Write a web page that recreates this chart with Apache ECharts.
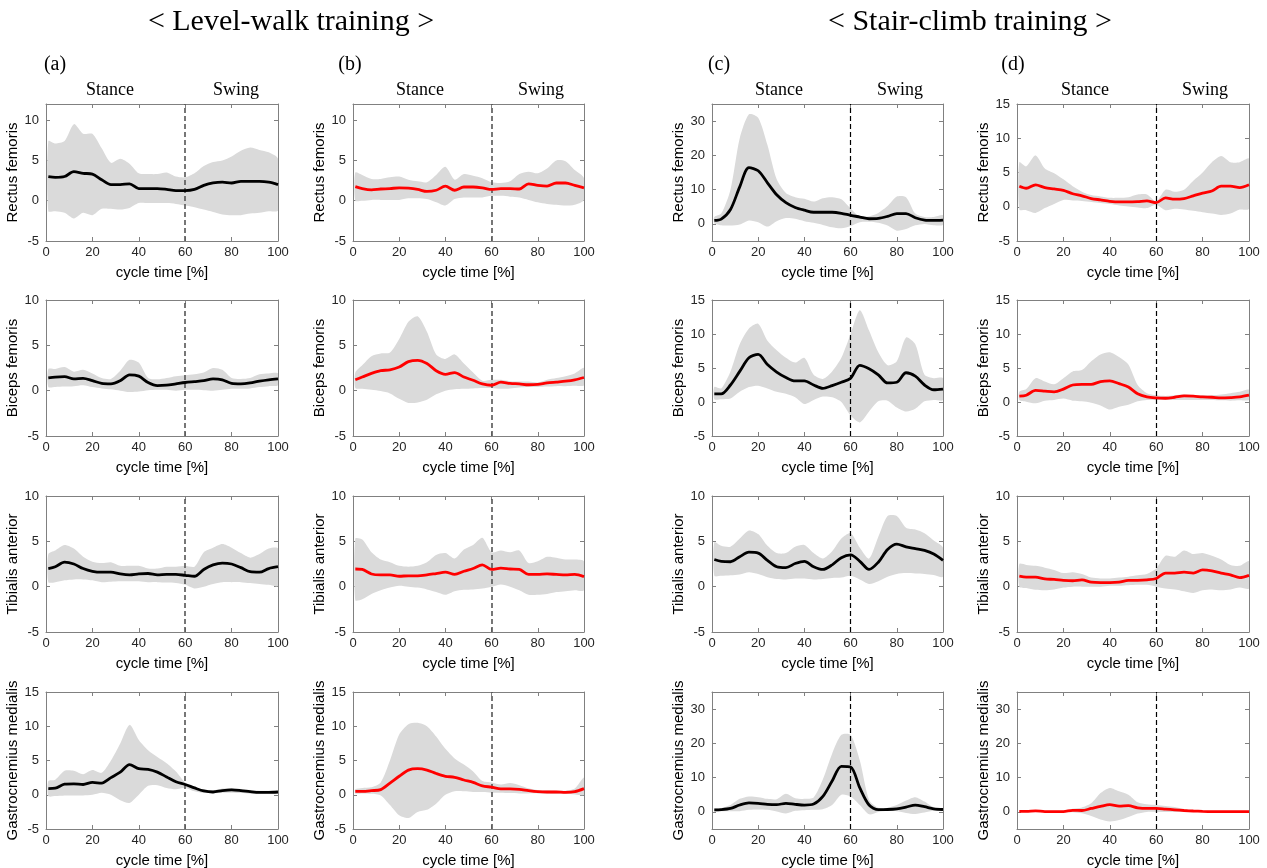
<!DOCTYPE html>
<html lang="en">
<head>
    <meta charset="UTF-8">
    <title>EMG during level-walk and stair-climb training</title>
    <script src="https://cdn.jsdelivr.net/npm/echarts@6/dist/echarts.min.js"></script>
    <style>
        html, body { margin: 0; padding: 0; background: #fff; }
        #chart { width: 1267px; height: 868px; }
    </style>
</head>
<body>
    <div id="chart"></div>
    <script>
        // cycle time samples [%]
        var X = [1, 4, 8, 12, 16, 20, 24, 28, 32, 36, 40, 44, 48, 52, 56, 60, 64, 68, 72, 76, 80, 84, 88, 92, 96, 100];

        var xTicks = [0, 20, 40, 60, 80, 100];
        var ticks10 = [-5, 0, 5, 10];
        var ticks15 = [-5, 0, 5, 10, 15];
        var ticks35 = [0, 10, 20, 30];

        var muscles = ['Rectus femoris', 'Biceps femoris', 'Tibialis anterior', 'Gastrocnemius medialis'];

        // (a) level walk, black
        var aRfMean = [3.0, 2.9, 3.0, 3.6, 3.4, 3.3, 2.6, 2.0, 2.0, 2.1, 1.5, 1.5, 1.5, 1.4, 1.25, 1.25, 1.4, 1.9, 2.2, 2.3, 2.2, 2.4, 2.4, 2.4, 2.3, 2.0];
        var aRfHi = [7.4, 7.1, 7.4, 9.5, 8.3, 8.3, 6.5, 4.7, 5.2, 4.6, 3.4, 3.3, 3.3, 3.5, 3.0, 2.9, 3.4, 4.3, 4.8, 5.0, 5.5, 6.2, 6.6, 6.3, 6.0, 5.2];
        var aRfLo = [-1.3, -1.3, -1.5, -2.2, -1.5, -1.8, -1.0, -1.0, -1.1, -0.9, -0.3, -0.3, -0.3, -0.3, -0.4, -0.6, -0.8, -1.1, -1.4, -1.7, -1.8, -1.8, -1.6, -1.5, -1.3, -1.2];

        var aBfMean = [1.4, 1.5, 1.55, 1.3, 1.35, 1.1, 0.8, 0.75, 1.1, 1.75, 1.6, 0.9, 0.55, 0.6, 0.75, 0.9, 1.0, 1.1, 1.3, 1.2, 0.8, 0.75, 0.85, 1.05, 1.2, 1.3];
        var aBfHi = [2.4, 2.4, 2.6, 2.1, 2.3, 1.9, 1.4, 1.3, 2.2, 3.4, 3.1, 1.4, 1.25, 1.4, 1.6, 1.7, 1.8, 2.0, 2.5, 2.3, 1.4, 1.3, 1.4, 1.8, 1.9, 1.9];
        var aBfLo = [0.4, 0.4, 0.45, 0.5, 0.6, 0.4, 0.25, 0.15, 0.0, -0.15, -0.1, 0.05, 0.1, 0.1, 0.0, 0.1, 0.1, 0.05, 0.0, 0.1, 0.2, 0.2, 0.25, 0.4, 0.5, 0.6];

        var aTaMean = [2.0, 2.2, 2.7, 2.5, 2.0, 1.7, 1.6, 1.6, 1.4, 1.3, 1.4, 1.45, 1.3, 1.35, 1.35, 1.25, 1.15, 1.9, 2.4, 2.6, 2.5, 2.1, 1.65, 1.6, 2.0, 2.2];
        var aTaHi = [3.6, 4.0, 4.6, 4.2, 3.3, 2.75, 2.6, 2.7, 2.3, 2.3, 2.3, 2.0, 2.0, 2.2, 2.2, 2.3, 2.2, 3.8, 4.3, 4.7, 4.3, 3.7, 3.2, 3.6, 4.2, 4.2];
        var aTaLo = [0.5, 0.5, 0.7, 0.8, 0.8, 0.7, 0.5, 0.55, 0.6, 0.6, 0.6, 0.5, 0.5, 0.45, 0.4, 0.2, -0.2, 0.0, 0.3, 0.5, 0.5, 0.5, 0.4, 0.3, 0.2, 0.1];

        var aGmMean = [0.9, 0.95, 1.55, 1.6, 1.5, 1.8, 1.7, 2.5, 3.3, 4.4, 3.8, 3.7, 3.3, 2.6, 1.9, 1.5, 1.0, 0.55, 0.4, 0.6, 0.7, 0.6, 0.45, 0.35, 0.35, 0.4];
        var aGmHi = [2.0, 2.2, 3.5, 3.5, 3.0, 3.6, 3.2, 5.0, 7.5, 10.2, 8.0, 6.5, 5.5, 4.6, 3.4, 1.8, 1.1, 0.75, 0.65, 0.9, 1.0, 0.85, 0.7, 0.6, 0.6, 0.6];
        var aGmLo = [-0.2, -0.2, -0.1, -0.1, -0.1, 0.0, 0.3, 0.0, -0.8, -1.2, 0.0, 1.3, 1.4, 1.0, 0.8, 1.0, 0.5, 0.25, 0.2, 0.3, 0.3, 0.25, 0.15, 0.1, 0.15, 0.2];

        // (b) level walk, red
        var bRfMean = [1.75, 1.5, 1.35, 1.45, 1.5, 1.6, 1.55, 1.4, 1.15, 1.3, 1.8, 1.3, 1.7, 1.7, 1.6, 1.4, 1.5, 1.5, 1.45, 2.1, 1.9, 1.8, 2.2, 2.2, 1.9, 1.6];
        var bRfHi = [3.5, 3.2, 2.7, 2.7, 2.9, 3.0, 2.6, 2.4, 2.3, 3.2, 4.2, 2.6, 3.3, 3.1, 2.8, 2.3, 2.2, 2.4, 3.3, 3.6, 3.4, 4.0, 5.0, 4.9, 3.8, 2.8];
        var bRfLo = [0.0, 0.0, 0.1, 0.1, 0.1, 0.1, 0.3, 0.3, 0.2, -0.2, -0.6, 0.2, 0.4, 0.4, 0.4, 0.6, 0.6, 0.5, 0.4, 0.1, -0.2, -0.4, -0.5, -0.6, -0.5, 0.1];

        var bBfMean = [1.2, 1.5, 1.9, 2.2, 2.3, 2.6, 3.2, 3.35, 3.0, 2.2, 1.8, 2.0, 1.5, 1.15, 0.75, 0.6, 0.95, 0.8, 0.75, 0.65, 0.7, 0.85, 0.95, 1.05, 1.2, 1.45];
        var bBfHi = [2.0, 2.8, 3.8, 4.1, 4.2, 5.7, 7.6, 8.2, 6.5, 4.0, 3.5, 4.0, 3.0, 2.0, 1.1, 1.2, 1.2, 1.05, 1.0, 1.0, 0.9, 1.2, 1.4, 1.6, 1.9, 2.5];
        var bBfLo = [0.3, 0.2, 0.1, -0.05, -0.3, -0.9, -1.35, -1.3, -1.0, -0.4, 0.0, 0.15, 0.2, 0.25, 0.3, 0.3, 0.2, 0.25, 0.35, 0.4, 0.4, 0.45, 0.5, 0.5, 0.55, 0.6];

        var bTaMean = [1.95, 1.9, 1.4, 1.3, 1.3, 1.15, 1.2, 1.2, 1.3, 1.45, 1.6, 1.35, 1.7, 2.0, 2.4, 1.9, 2.05, 1.95, 1.9, 1.35, 1.35, 1.4, 1.35, 1.3, 1.35, 1.1];
        var bTaHi = [5.3, 5.2, 3.8, 3.0, 2.7, 2.3, 2.2, 2.3, 2.7, 3.5, 3.7, 3.1, 4.1, 4.6, 5.4, 3.8, 4.0, 3.8, 4.0, 2.6, 2.8, 3.3, 3.2, 3.0, 3.0, 2.8];
        var bTaLo = [-1.5, -1.4, -0.8, -0.4, -0.1, 0.1, 0.0, -0.1, -0.3, -0.6, -0.9, -0.5, -0.35, -0.3, -0.2, 0.0, 0.25, 0.0, -0.4, -0.9, -0.9, -0.8, -0.6, -0.5, -0.4, -0.4];

        var bGmMean = [0.5, 0.5, 0.6, 0.75, 1.7, 2.7, 3.6, 3.8, 3.6, 3.1, 2.7, 2.55, 2.15, 1.8, 1.3, 1.1, 0.85, 0.85, 0.8, 0.6, 0.45, 0.4, 0.4, 0.35, 0.45, 0.9];
        var bGmHi = [0.8, 1.0, 1.1, 1.8, 5.0, 8.8, 10.3, 10.5, 10.0, 8.5, 6.7, 5.3, 4.4, 3.4, 2.0, 1.8, 1.5, 1.7, 1.4, 0.95, 0.7, 0.65, 0.6, 0.6, 0.9, 2.5];
        var bGmLo = [0.2, 0.2, 0.15, -0.1, -1.5, -3.0, -3.4, -2.5, -2.2, -1.3, 0.0, 0.5, 0.5, 0.4, 0.4, 0.3, 0.3, 0.25, 0.2, 0.2, 0.2, 0.15, 0.1, 0.1, 0.05, 0.0];

        // (c) stair climb, black
        var cRfMean = [1.0, 1.4, 4.2, 10.8, 16.4, 15.5, 12.0, 8.5, 6.2, 4.8, 4.0, 3.4, 3.4, 3.4, 3.1, 2.5, 2.0, 1.5, 1.6, 2.2, 3.0, 3.0, 1.8, 1.1, 1.0, 1.1];
        var cRfHi = [2.0, 3.0, 10, 25, 32, 31, 23, 13, 9, 7.8, 7.3, 6.5, 7.5, 7.8, 7.2, 4.5, 2.1, 2.2, 3.2, 5.2, 8.0, 7.8, 3.0, 2.0, 2.0, 2.5];
        var cRfLo = [0.2, -0.4, -0.5, -0.2, 1.0, 0.5, -0.8, 0.8, 1.7, 1.5, 0.8, 0.3, -0.3, -1.0, -1.3, -0.6, 0.5, 0.6, 0.3, -0.5, -2.0, -1.5, -0.4, 0.0, -0.4, -0.3];

        var cBfMean = [1.2, 1.2, 2.5, 4.5, 6.5, 7.0, 5.5, 4.4, 3.6, 3.1, 3.1, 2.5, 2.0, 2.4, 2.9, 3.5, 5.4, 4.9, 4.0, 2.8, 2.9, 4.3, 3.8, 2.5, 1.8, 1.9];
        var cBfHi = [2.2, 2.0, 4.5, 8.5, 10.8, 11.5, 9.0, 7.6, 6.5, 5.8, 6.5, 4.0, 3.4, 4.5, 6.5, 10.0, 13.5, 10.5, 7.3, 5.4, 6.0, 9.5, 8.5, 4.0, 3.5, 3.5];
        var cBfLo = [0.4, 0.4, 0.5, 1.5, 2.2, 2.4, 2.0, 1.5, 1.2, 0.7, -0.3, 0.3, 0.8, 0.7, 0.0, -2.0, -3.0, -1.4, 0.1, 0.2, -0.8, -1.4, -1.0, 0.1, 0.3, 0.3];

        var cTaMean = [3.0, 2.8, 2.75, 3.3, 3.8, 3.7, 2.9, 2.2, 2.1, 2.55, 2.8, 2.2, 1.9, 2.4, 3.2, 3.5, 2.8, 1.9, 2.7, 4.1, 4.7, 4.4, 4.2, 4.0, 3.6, 2.9];
        var cTaHi = [4.9, 4.5, 4.4, 5.3, 6.2, 5.8, 4.5, 3.7, 3.7, 4.4, 4.6, 3.7, 3.1, 3.9, 5.3, 5.9, 4.3, 3.1, 5.5, 7.8, 7.8, 6.5, 6.3, 5.9, 5.1, 4.3];
        var cTaLo = [1.2, 1.2, 1.25, 1.35, 1.6, 1.4, 1.05, 0.85, 0.8, 0.9, 0.9, 0.8, 0.85, 0.95, 1.0, 1.2, 0.8, 0.3, 0.6, 1.1, 1.4, 1.5, 1.45, 1.4, 1.3, 1.1];

        var cGmMean = [0.6, 0.65, 1.0, 2.0, 2.6, 2.5, 2.2, 2.1, 2.5, 2.2, 2.0, 2.3, 4.5, 9.0, 13.3, 13.1, 7.0, 2.0, 0.65, 0.7, 0.9, 1.4, 2.0, 1.5, 0.9, 0.7];
        var cGmHi = [1.0, 1.1, 2.0, 3.8, 4.5, 4.3, 3.8, 3.7, 5.3, 4.0, 3.8, 4.2, 9.5, 17.0, 22.5, 22.5, 15.0, 3.5, 1.2, 1.2, 2.0, 3.3, 4.3, 3.0, 1.3, 1.0];
        var cGmLo = [0.2, 0.2, 0.15, 0.2, 0.6, 0.7, 0.6, 0.1, -0.5, 0.3, 0.5, 0.6, 0.8, 2.0, 5.0, 4.5, 2.0, -0.7, 0.0, 0.3, 0.2, -0.3, -0.6, -0.2, 0.3, 0.5];

        // (d) stair climb, red
        var dRfMean = [3.0, 2.7, 3.2, 2.8, 2.6, 2.4, 1.9, 1.6, 1.2, 1.0, 0.8, 0.7, 0.7, 0.75, 0.85, 0.6, 1.3, 1.1, 1.2, 1.6, 2.0, 2.3, 3.0, 3.0, 2.8, 3.2];
        var dRfHi = [6.5, 5.9, 7.5, 5.6, 4.9, 4.0, 3.0, 2.2, 1.7, 1.5, 1.3, 1.3, 1.4, 1.8, 1.8, 0.8, 2.5, 2.2, 2.5, 3.8, 5.0, 6.5, 7.4, 6.5, 6.5, 7.0];
        var dRfLo = [-0.4, -0.5, -0.9, -0.2, 0.4, 1.0, 0.9, 0.85, 0.7, 0.55, 0.4, 0.2, 0.05, -0.1, -0.2, 0.3, -0.5, -0.3, -0.4, -0.6, -0.8, -1.0, -1.2, -1.0, -0.4, -0.3];

        var dBfMean = [0.85, 1.0, 1.7, 1.6, 1.5, 1.9, 2.5, 2.6, 2.6, 3.0, 3.1, 2.7, 2.2, 1.2, 0.75, 0.6, 0.55, 0.7, 0.9, 0.85, 0.75, 0.7, 0.6, 0.65, 0.75, 1.0];
        var dBfHi = [1.5, 1.9, 3.5, 3.0, 2.6, 3.5, 4.5, 4.7, 6.0, 7.0, 7.3, 6.6, 5.5, 2.5, 1.3, 1.0, 0.9, 1.0, 1.1, 1.0, 1.0, 1.0, 1.1, 1.3, 1.5, 1.8];
        var dBfLo = [0.3, 0.05, -0.2, 0.2, 0.3, 0.5, 0.2, 0.1, -0.1, -0.5, -1.1, -0.7, -0.4, 0.1, 0.3, 0.3, 0.3, 0.3, 0.3, 0.3, 0.3, 0.3, 0.25, 0.2, 0.25, 0.3];

        var dTaMean = [1.15, 1.05, 1.05, 0.85, 0.8, 0.7, 0.65, 0.75, 0.5, 0.45, 0.45, 0.5, 0.7, 0.7, 0.75, 0.9, 1.5, 1.5, 1.6, 1.5, 1.85, 1.75, 1.5, 1.3, 1.0, 1.25];
        var dTaHi = [2.5, 2.4, 2.3, 2.1, 1.85, 1.5, 1.6, 1.4, 1.0, 0.9, 0.9, 1.0, 1.1, 1.25, 1.4, 2.0, 3.4, 3.3, 4.0, 3.6, 3.7, 3.4, 3.0, 2.4, 2.3, 2.8];
        var dTaLo = [0.0, -0.15, -0.35, -0.4, -0.3, -0.1, 0.0, 0.0, 0.0, 0.0, 0.1, 0.1, 0.15, 0.2, 0.2, 0.0, -0.2, -0.3, -0.5, -0.7, -0.4, -0.3, -0.4, -0.3, -0.1, -0.2];

        var dGmMean = [0.15, 0.15, 0.3, 0.1, 0.1, 0.1, 0.45, 0.4, 1.0, 1.6, 2.1, 1.7, 1.8, 1.2, 1.0, 1.0, 0.8, 0.6, 0.4, 0.25, 0.15, 0.1, 0.1, 0.1, 0.1, 0.1];
        var dGmHi = [0.3, 0.3, 0.4, 0.3, 0.3, 0.3, 0.9, 1.3, 2.5, 5.5, 7.0, 6.0, 5.0, 2.8, 2.2, 2.0, 1.7, 1.4, 0.8, 0.5, 0.3, 0.25, 0.2, 0.2, 0.2, 0.2];
        var dGmLo = [0.0, 0.0, 0.0, 0.0, 0.0, 0.0, -0.1, -0.4, -1.2, -2.2, -2.8, -2.4, -1.5, -0.5, 0.0, 0.0, 0.0, 0.0, 0.0, 0.0, 0.0, 0.0, 0.0, 0.0, 0.0, 0.0];

        // panels: col, row, series, y range
        var panels = [
            { col: 0, row: 0, mean: aRfMean, lo: aRfLo, hi: aRfHi, max: 12, ticks: ticks10 },
            { col: 0, row: 1, mean: aBfMean, lo: aBfLo, hi: aBfHi, max: 10, ticks: ticks10 },
            { col: 0, row: 2, mean: aTaMean, lo: aTaLo, hi: aTaHi, max: 10, ticks: ticks10 },
            { col: 0, row: 3, mean: aGmMean, lo: aGmLo, hi: aGmHi, max: 15, ticks: ticks15 },
            { col: 1, row: 0, mean: bRfMean, lo: bRfLo, hi: bRfHi, max: 12, ticks: ticks10 },
            { col: 1, row: 1, mean: bBfMean, lo: bBfLo, hi: bBfHi, max: 10, ticks: ticks10 },
            { col: 1, row: 2, mean: bTaMean, lo: bTaLo, hi: bTaHi, max: 10, ticks: ticks10 },
            { col: 1, row: 3, mean: bGmMean, lo: bGmLo, hi: bGmHi, max: 15, ticks: ticks15 },
            { col: 2, row: 0, mean: cRfMean, lo: cRfLo, hi: cRfHi, max: 35, ticks: ticks35 },
            { col: 2, row: 1, mean: cBfMean, lo: cBfLo, hi: cBfHi, max: 15, ticks: ticks15 },
            { col: 2, row: 2, mean: cTaMean, lo: cTaLo, hi: cTaHi, max: 10, ticks: ticks10 },
            { col: 2, row: 3, mean: cGmMean, lo: cGmLo, hi: cGmHi, max: 35, ticks: ticks35 },
            { col: 3, row: 0, mean: dRfMean, lo: dRfLo, hi: dRfHi, max: 15, ticks: ticks15 },
            { col: 3, row: 1, mean: dBfMean, lo: dBfLo, hi: dBfHi, max: 15, ticks: ticks15 },
            { col: 3, row: 2, mean: dTaMean, lo: dTaLo, hi: dTaHi, max: 10, ticks: ticks10 },
            { col: 3, row: 3, mean: dGmMean, lo: dGmLo, hi: dGmHi, max: 35, ticks: ticks35 }
        ];

        var colLeft = [46, 353, 712, 1017];
        var colWidth = [232, 231, 231, 232];
        var rowTop = [104, 300, 496, 692];
        var rowHeight = [137, 136, 136, 137];
        var lineColor = ['#000000', '#ff0000', '#000000', '#ff0000'];
        var dashColor = ['#555555', '#555555', '#000000', '#000000'];
        var dashWidth = [1.6, 1.6, 1.2, 1.2];

        var sans = 'Liberation Sans, Arial, sans-serif';
        var serif = 'Liberation Serif, Times New Roman, serif';
        var boxColor = '#808080';

        // gray band between lower and upper values, drawn once per panel
        function renderBand(params, api) {
            if (params.dataIndexInside !== 0) return null;
            var n = params.dataInsideLength;
            var top = [], bot = [];
            for (var k = 0; k < n; k++) {
                top.push(api.coord([api.value(0, k), api.value(2, k)]));
                bot.push(api.coord([api.value(0, k), api.value(1, k)]));
            }
            return {
                type: 'polygon', silent: true,
                shape: { points: top.concat(bot.reverse()), smooth: 0.25 },
                style: { fill: '#dadada', stroke: null }
            };
        }

        var grids = [], xAxes = [], yAxes = [], series = [];

        panels.forEach(function (p, i) {
            grids.push({
                left: colLeft[p.col], top: rowTop[p.row],
                width: colWidth[p.col], height: rowHeight[p.row],
                containLabel: false, outerBoundsMode: 'none'
            });
            var lineCfg = { show: true, onZero: false, lineStyle: { color: boxColor, width: 1 } };
            xAxes.push({
                type: 'value', gridIndex: i, min: 0, max: 100, position: 'bottom',
                axisLine: lineCfg,
                axisTick: { show: true, inside: true, length: 4, customValues: xTicks, lineStyle: { color: boxColor } },
                axisLabel: { customValues: xTicks, fontSize: 13, color: '#262626', fontFamily: sans, margin: 5 },
                splitLine: { show: false },
                name: 'cycle time [%]', nameLocation: 'middle', nameGap: 24,
                nameTextStyle: { fontSize: 15, color: '#000', fontFamily: sans }
            });
            xAxes.push({
                type: 'value', gridIndex: i, min: 0, max: 100, position: 'top',
                axisLine: lineCfg,
                axisTick: { show: true, inside: true, length: 4, customValues: xTicks, lineStyle: { color: boxColor } },
                axisLabel: { show: false }, splitLine: { show: false }
            });
            yAxes.push({
                type: 'value', gridIndex: i, min: -5, max: p.max, position: 'left',
                axisLine: lineCfg,
                axisTick: { show: true, inside: true, length: 4, customValues: p.ticks, lineStyle: { color: boxColor } },
                axisLabel: { customValues: p.ticks, fontSize: 13, color: '#262626', fontFamily: sans, margin: 7 },
                splitLine: { show: false },
                name: muscles[p.row], nameLocation: 'middle', nameRotate: 90, nameGap: 20,
                nameTextStyle: { fontSize: 15, color: '#000', fontFamily: sans }
            });
            yAxes.push({
                type: 'value', gridIndex: i, min: -5, max: p.max, position: 'right',
                axisLine: lineCfg,
                axisTick: { show: true, inside: true, length: 4, customValues: p.ticks, lineStyle: { color: boxColor } },
                axisLabel: { show: false }, splitLine: { show: false }
            });

            var ax = 2 * i;
            series.push({
                type: 'custom', xAxisIndex: ax, yAxisIndex: ax, silent: true, clip: true,
                renderItem: renderBand,
                encode: { x: 0, y: [1, 2] },
                data: X.map(function (x, k) { return [x, p.lo[k], p.hi[k]]; })
            });
            series.push({
                type: 'line', xAxisIndex: ax, yAxisIndex: ax, silent: true,
                symbol: 'none', smooth: 0.3, z: 5,
                lineStyle: { color: lineColor[p.col], width: 2.8 },
                data: X.map(function (x, k) { return [x, p.mean[k]]; }),
                markLine: {
                    silent: true, symbol: 'none', label: { show: false },
                    lineStyle: { color: dashColor[p.col], width: dashWidth[p.col], type: [5, 3] },
                    data: [{ xAxis: 60 }]
                }
            });
        });

        // titles, panel letters and phase labels
        var texts = [
            { x: 291, y: 22, text: '< Level-walk training >', size: 30 },
            { x: 970, y: 22, text: '< Stair-climb training >', size: 30 },
            { x: 55, y: 65, text: '(a)', size: 20 },
            { x: 350, y: 65, text: '(b)', size: 20 },
            { x: 719, y: 65, text: '(c)', size: 20 },
            { x: 1013, y: 65, text: '(d)', size: 20 }
        ];
        var stanceX = [110, 420, 779, 1085];
        var swingX = [236, 541, 900, 1205];
        for (var c = 0; c < 4; c++) {
            texts.push({ x: stanceX[c], y: 90, text: 'Stance', size: 18 });
            texts.push({ x: swingX[c], y: 90, text: 'Swing', size: 18 });
        }
        var graphic = texts.map(function (t) {
            return {
                type: 'text', x: t.x, y: t.y, silent: true,
                style: {
                    text: t.text, fill: '#000', font: t.size + 'px ' + serif,
                    textAlign: 'center', textVerticalAlign: 'middle'
                }
            };
        });

        var myChart = echarts.init(document.getElementById('chart'));
        myChart.setOption({
            animation: false,
            backgroundColor: '#fff',
            grid: grids,
            xAxis: xAxes,
            yAxis: yAxes,
            series: series,
            graphic: graphic
        });
    </script>
</body>
</html>
